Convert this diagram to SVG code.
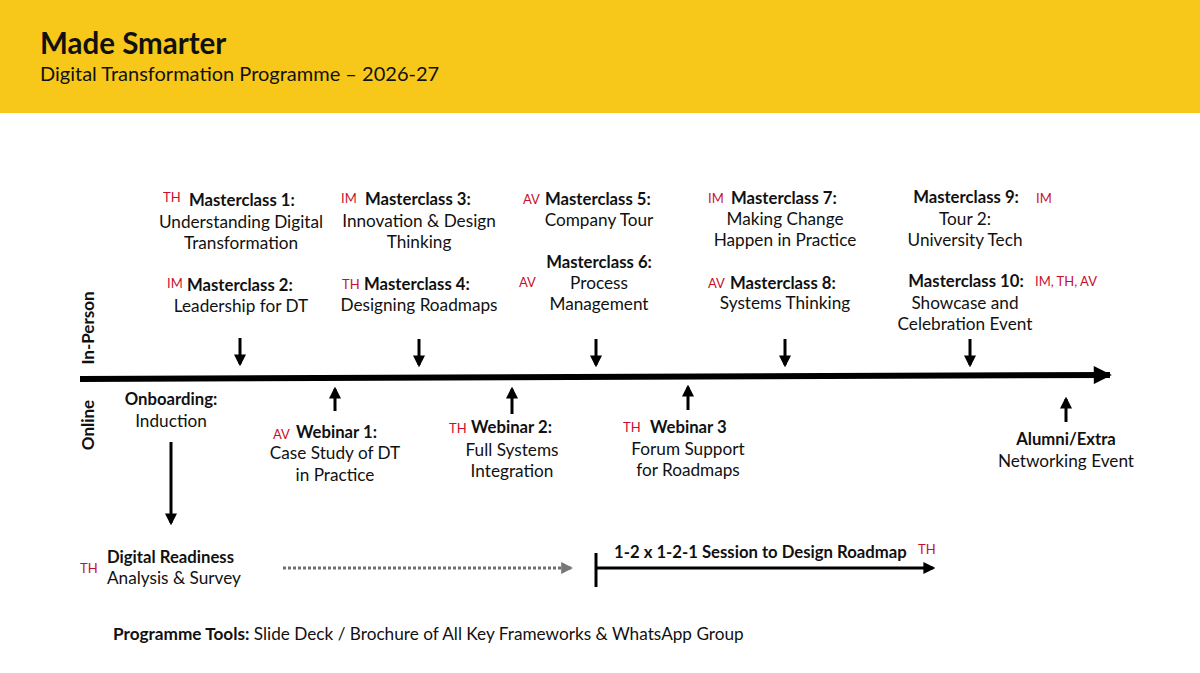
<svg xmlns="http://www.w3.org/2000/svg" width="1200" height="673" viewBox="0 0 1200 673">
<style>
text{font-family:Lato,"Noto Sans",sans-serif;fill:#111}
.b{font-weight:bold;font-size:16.7px}
.r{font-size:17.2px}
.c{text-anchor:middle}
.tag{font-size:13px;fill:#c8102e}
.ar{stroke:#000;stroke-width:3;fill:none}
</style>
<defs>
<marker id="ah" viewBox="0 0 10 10" refX="8" refY="5" markerWidth="4" markerHeight="4" orient="auto"><path d="M0,0 L10,5 L0,10 z" fill="#000"/></marker>
<marker id="ahBig" viewBox="0 0 10 10" refX="9" refY="5" markerWidth="3.4" markerHeight="3" orient="auto"><path d="M0,0 L10,5 L0,10 z" fill="#000"/></marker>
<marker id="ahG" viewBox="0 0 10 10" refX="9" refY="5" markerWidth="4" markerHeight="4" orient="auto"><path d="M0,0 L10,5 L0,10 z" fill="#777"/></marker>
</defs>
<rect width="1200" height="673" fill="#fff"/>
<g id="header">
<rect x="0" y="0" width="1200" height="113" fill="#f7c81a"/>
<text x="40" y="54" style="font-size:29.5px;font-weight:bold">Made Smarter</text>
<text x="40" y="81" style="font-size:20px">Digital Transformation Programme – 2026-27</text>
</g>
<g id="lanes">
<text transform="translate(94,328) rotate(-90)" class="b c" style="font-size:17px">In-Person</text>
<text transform="translate(94,425) rotate(-90)" class="b c" style="font-size:17px">Online</text>
</g>
<g id="connectors">
<path d="M80,379 L1110,375" stroke="#000" stroke-width="6" fill="none" marker-end="url(#ahBig)"/>
<path class="ar" d="M240,338 V364" marker-end="url(#ah)"/>
<path class="ar" d="M419,339 V365" marker-end="url(#ah)"/>
<path class="ar" d="M596,339 V365" marker-end="url(#ah)"/>
<path class="ar" d="M785,339 V365" marker-end="url(#ah)"/>
<path class="ar" d="M970,339 V365" marker-end="url(#ah)"/>
<path class="ar" d="M335,411 V389" marker-end="url(#ah)"/>
<path class="ar" d="M512,414 V389" marker-end="url(#ah)"/>
<path class="ar" d="M688,410 V387" marker-end="url(#ah)"/>
<path class="ar" d="M1066,422 V399" marker-end="url(#ah)"/>
<path class="ar" d="M171,442 V523" marker-end="url(#ah)"/>
<path d="M283,568 L572,568" stroke="#6f6f6f" stroke-width="3" stroke-dasharray="3,2" fill="none" marker-end="url(#ahG)"/>
<path d="M596,553 V587" stroke="#000" stroke-width="3"/>
<path class="ar" d="M596,568 L933,568" marker-end="url(#ah)"/>
</g>
<g id="mc1"><text x="163" y="202" class="tag">TH</text><text x="189" y="206" class="b">Masterclass 1:</text><text x="241" y="228" class="r c">Understanding Digital</text><text x="241" y="249" class="r c">Transformation</text></g>
<g id="mc2"><text x="167" y="288" class="tag">IM</text><text x="187" y="291" class="b">Masterclass 2:</text><text x="241" y="312" class="r c">Leadership for DT</text></g>
<g id="mc3"><text x="341" y="203" class="tag">IM</text><text x="365" y="205" class="b">Masterclass 3:</text><text x="419" y="227" class="r c">Innovation &amp; Design</text><text x="419" y="248" class="r c">Thinking</text></g>
<g id="mc4"><text x="342" y="289" class="tag">TH</text><text x="364" y="290" class="b">Masterclass 4:</text><text x="419" y="311" class="r c">Designing Roadmaps</text></g>
<g id="mc5"><text x="523" y="204" class="tag">AV</text><text x="545" y="205" class="b">Masterclass 5:</text><text x="599" y="226" class="r c">Company Tour</text></g>
<g id="mc6"><text x="599" y="268" class="b c">Masterclass 6:</text><text x="519" y="287" class="tag">AV</text><text x="599" y="289" class="r c">Process</text><text x="599" y="310" class="r c">Management</text></g>
<g id="mc7"><text x="708" y="203" class="tag">IM</text><text x="731" y="204" class="b">Masterclass 7:</text><text x="785" y="225" class="r c">Making Change</text><text x="785" y="246" class="r c">Happen in Practice</text></g>
<g id="mc8"><text x="708" y="288" class="tag">AV</text><text x="730" y="289" class="b">Masterclass 8:</text><text x="785" y="309" class="r c">Systems Thinking</text></g>
<g id="mc9"><text x="966" y="203" class="b c">Masterclass 9:</text><text x="1036" y="203" class="tag">IM</text><text x="965" y="225" class="r c">Tour 2:</text><text x="965" y="246" class="r c">University Tech</text></g>
<g id="mc10"><text x="966" y="287" class="b c">Masterclass 10:</text><text x="1035" y="286" class="tag">IM, TH, AV</text><text x="965" y="309" class="r c">Showcase and</text><text x="965" y="330" class="r c">Celebration Event</text></g>
<g id="onboarding"><text x="171" y="405" class="b c">Onboarding:</text><text x="171" y="427" class="r c">Induction</text></g>
<g id="w1"><text x="273" y="439" class="tag">AV</text><text x="296" y="438" class="b">Webinar 1:</text><text x="335" y="459" class="r c">Case Study of DT</text><text x="335" y="481" class="r c">in Practice</text></g>
<g id="w2"><text x="449" y="433" class="tag">TH</text><text x="471" y="433" class="b">Webinar 2:</text><text x="512" y="456" class="r c">Full Systems</text><text x="512" y="477" class="r c">Integration</text></g>
<g id="w3"><text x="623" y="432" class="tag">TH</text><text x="650" y="433" class="b">Webinar 3</text><text x="688" y="455" class="r c">Forum Support</text><text x="688" y="476" class="r c">for Roadmaps</text></g>
<g id="alumni"><text x="1066" y="445" class="b c">Alumni/Extra</text><text x="1066" y="467" class="r c">Networking Event</text></g>
<g id="readiness"><text x="80" y="573" class="tag">TH</text><text x="107" y="563" class="b">Digital Readiness</text><text x="107" y="584" class="r">Analysis &amp; Survey</text></g>
<g id="session"><text x="614" y="558" class="b">1-2 x 1-2-1 Session to Design Roadmap</text><text x="918" y="554" class="tag">TH</text></g>
<g id="tools"><text x="113" y="640" class="r"><tspan font-weight="bold">Programme Tools:</tspan> Slide Deck / Brochure of All Key Frameworks &amp; WhatsApp Group</text></g>
</svg>
